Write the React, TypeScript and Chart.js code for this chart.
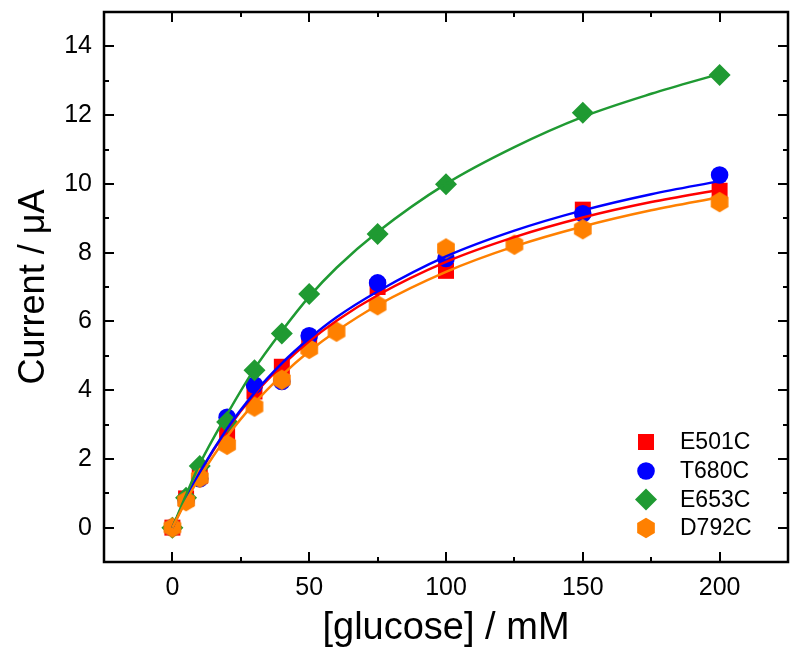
import React, { useEffect, useRef } from 'react';
import { Chart, registerables } from 'chart.js';

Chart.register(...registerables);

// ---- data ----
const seriesNames = ['E501C', 'T680C', 'E653C', 'D792C'];
const seriesColors = ['#ff0000', '#0000ff', '#1f9a32', '#ff8000'];

const concE501C = [0, 5, 10, 20, 30, 40, 50, 75, 100, 150, 200];
const currentE501C = [0, 0.85, 1.5, 2.75, 3.96, 4.68, 5.45, 7.0, 7.47, 9.25, 9.8];
const concT680C = [0, 5, 10, 20, 30, 40, 50, 75, 100, 150, 200];
const currentT680C = [0, 0.8, 1.42, 3.21, 4.15, 4.25, 5.58, 7.12, 7.83, 9.13, 10.26];
const concE653C = [0, 5, 10, 20, 30, 40, 50, 75, 100, 150, 200];
const currentE653C = [0, 0.87, 1.79, 3.07, 4.58, 5.65, 6.8, 8.54, 9.99, 12.07, 13.17];
const concD792C = [0, 5, 10, 20, 30, 40, 50, 60, 75, 100, 125, 150, 200];
const currentD792C = [0, 0.77, 1.45, 2.41, 3.52, 4.3, 5.2, 5.7, 6.47, 8.12, 8.23, 8.68, 9.47];

// fitted curves
const fitConc = [0, 5, 10, 20, 30, 40, 50, 60, 75, 100, 125, 150, 175, 200];
const fitE501C = [0, 0.85, 1.59, 2.85, 3.88, 4.71, 5.42, 6.02, 6.76, 7.73, 8.45, 9.02, 9.47, 9.83];
const fitT680C = [0, 0.85, 1.61, 2.88, 3.92, 4.78, 5.5, 6.12, 6.87, 7.89, 8.64, 9.23, 9.7, 10.08];
const fitE653C = [0, 0.95, 1.85, 3.3, 4.62, 5.72, 6.72, 7.56, 8.6, 10.0, 11.07, 11.95, 12.62, 13.2];
const fitD792C = [0, 0.78, 1.47, 2.65, 3.62, 4.43, 5.13, 5.72, 6.47, 7.44, 8.18, 8.76, 9.23, 9.61];

const xTickValues = [0, 50, 100, 150, 200];
const xMinorTicks = [25, 75, 125, 175];
const yTickValues = [0, 2, 4, 6, 8, 10, 12, 14];
const yMinorTicks = [1, 3, 5, 7, 9, 11, 13];

const xTitle = '[glucose] / mM';
const yTitle = 'Current / \u03bcA';

const FONT = "'Liberation Sans', Arial, sans-serif";

function pts(xs: number[], ys: number[]) {
  return xs.map((x, i) => ({ x, y: ys[i] }));
}

function hexPath(ctx: CanvasRenderingContext2D, cx: number, cy: number, r: number) {
  ctx.beginPath();
  for (let k = 0; k < 6; k++) {
    const a = -Math.PI / 2 + (k * Math.PI) / 3;
    const px = cx + r * Math.cos(a);
    const py = cy + r * Math.sin(a);
    if (k === 0) ctx.moveTo(px, py);
    else ctx.lineTo(px, py);
  }
  ctx.closePath();
}

function makeHexCanvas(color: string) {
  const c = document.createElement('canvas');
  c.width = 24;
  c.height = 24;
  const ctx = c.getContext('2d')!;
  ctx.fillStyle = color;
  hexPath(ctx, 12, 12, 10.2);
  ctx.fill();
  return c;
}

function drawMarker(ctx: CanvasRenderingContext2D, kind: number, x: number, y: number, color: string) {
  ctx.save();
  ctx.fillStyle = color;
  if (kind === 0) {
    ctx.fillRect(x - 8, y - 8, 16, 16);
  } else if (kind === 1) {
    ctx.beginPath();
    ctx.arc(x, y, 8.8, 0, Math.PI * 2);
    ctx.fill();
  } else if (kind === 2) {
    ctx.beginPath();
    ctx.moveTo(x, y - 11);
    ctx.lineTo(x + 11, y);
    ctx.lineTo(x, y + 11);
    ctx.lineTo(x - 11, y);
    ctx.closePath();
    ctx.fill();
  } else {
    hexPath(ctx, x, y, 10.2);
    ctx.fill();
  }
  ctx.restore();
}

const framePlugin = {
  id: 'frameTicks',
  afterDatasetsDraw(chart: any) {
    const { ctx, chartArea } = chart;
    const xs = chart.scales.x;
    const ys = chart.scales.y;
    const { left, right, top, bottom } = chartArea;
    ctx.save();
    ctx.strokeStyle = '#000';
    ctx.lineWidth = 2;
    ctx.beginPath();
    const major = 10;
    const minor = 5;
    xTickValues.forEach((v) => {
      const px = Math.round(xs.getPixelForValue(v));
      ctx.moveTo(px, bottom);
      ctx.lineTo(px, bottom - major);
      ctx.moveTo(px, top);
      ctx.lineTo(px, top + major);
    });
    xMinorTicks.forEach((v) => {
      const px = Math.round(xs.getPixelForValue(v));
      ctx.moveTo(px, bottom);
      ctx.lineTo(px, bottom - minor);
      ctx.moveTo(px, top);
      ctx.lineTo(px, top + minor);
    });
    yTickValues.forEach((v) => {
      const py = Math.round(ys.getPixelForValue(v));
      ctx.moveTo(left, py);
      ctx.lineTo(left + major, py);
      ctx.moveTo(right, py);
      ctx.lineTo(right - major, py);
    });
    yMinorTicks.forEach((v) => {
      const py = Math.round(ys.getPixelForValue(v));
      ctx.moveTo(left, py);
      ctx.lineTo(left + minor, py);
      ctx.moveTo(right, py);
      ctx.lineTo(right - minor, py);
    });
    ctx.stroke();
    ctx.lineWidth = 2.5;
    ctx.strokeRect(left, top, right - left, bottom - top);

    // legend
    const rows = [442, 471, 499.5, 528];
    ctx.font = `23px ${FONT}`;
    ctx.textBaseline = 'middle';
    ctx.textAlign = 'left';
    seriesNames.forEach((name, i) => {
      drawMarker(ctx, i, 646, rows[i], seriesColors[i]);
      ctx.fillStyle = '#000';
      ctx.fillText(name, 680, rows[i] + 1);
    });
    ctx.restore();
  },
};

export default function App() {
  const ref = useRef<HTMLCanvasElement | null>(null);

  useEffect(() => {
    document.body.style.margin = '0';
    const canvas = ref.current!;
    const hex = makeHexCanvas(seriesColors[3]);

    const scatterSets = [
      { name: seriesNames[0], data: pts(concE501C, currentE501C), style: 'rect', radius: 11.3, order: 7 },
      { name: seriesNames[1], data: pts(concT680C, currentT680C), style: 'circle', radius: 8.8, order: 6 },
      { name: seriesNames[2], data: pts(concE653C, currentE653C), style: 'rectRot', radius: 11, order: 5 },
      { name: seriesNames[3], data: pts(concD792C, currentD792C), style: hex, radius: 10, order: 4 },
    ].map((s, i) => ({
      type: 'scatter' as const,
      label: s.name,
      data: s.data,
      pointStyle: s.style as any,
      pointRadius: s.radius,
      pointHoverRadius: s.radius,
      pointBackgroundColor: seriesColors[i],
      pointBorderColor: seriesColors[i],
      pointBorderWidth: 0,
      showLine: false,
      order: s.order,
    }));

    const fits = [fitE501C, fitT680C, fitE653C, fitD792C];
    const lineOrders = [3, 2, 1, 0];
    const lineSets = fits.map((f, i) => ({
      type: 'line' as const,
      label: seriesNames[i] + ' fit',
      data: pts(fitConc, f),
      borderColor: seriesColors[i],
      borderWidth: 2.5,
      pointRadius: 0,
      showLine: true,
      fill: false,
      cubicInterpolationMode: 'monotone' as const,
      order: lineOrders[i],
    }));

    const chart = new Chart(canvas, {
      type: 'scatter',
      data: { datasets: [...scatterSets, ...lineSets] as any },
      options: {
        animation: false,
        responsive: false,
        maintainAspectRatio: false,
        layout: { padding: { top: 12, right: 12, left: 0, bottom: 0 } },
        plugins: {
          legend: { display: false },
          tooltip: { enabled: false },
        },
        scales: {
          x: {
            type: 'linear',
            min: -25,
            max: 225,
            grid: { display: false, drawTicks: false },
            border: { display: false },
            afterBuildTicks: (scale: any) => {
              scale.ticks = xTickValues.map((v) => ({ value: v }));
            },
            afterFit: (scale: any) => {
              scale.height = 98;
              scale.paddingLeft = 0;
              scale.paddingRight = 0;
            },
            ticks: {
              padding: 11,
              color: '#000',
              maxRotation: 0,
              font: { family: FONT, size: 25 },
            },
            title: {
              display: true,
              text: xTitle,
              color: '#000',
              font: { family: FONT, size: 38 },
              padding: { top: 0, bottom: 9 },
            },
          },
          y: {
            type: 'linear',
            min: -1,
            max: 15,
            grid: { display: false, drawTicks: false },
            border: { display: false },
            afterBuildTicks: (scale: any) => {
              scale.ticks = yTickValues.map((v) => ({ value: v }));
            },
            afterFit: (scale: any) => {
              scale.width = 104;
              scale.paddingTop = 0;
              scale.paddingBottom = 0;
            },
            ticks: {
              padding: 12,
              color: '#000',
              font: { family: FONT, size: 25 },
            },
            title: {
              display: true,
              text: yTitle,
              color: '#000',
              font: { family: FONT, size: 36 },
              padding: { top: 12, bottom: 0 },
            },
          },
        },
      },
      plugins: [framePlugin],
    });

    return () => {
      chart.destroy();
    };
  }, []);

  return (
    <div style={{ width: 800, height: 660, background: '#fff' }}>
      <canvas ref={ref} width={800} height={660} style={{ display: 'block' }} />
    </div>
  );
}
